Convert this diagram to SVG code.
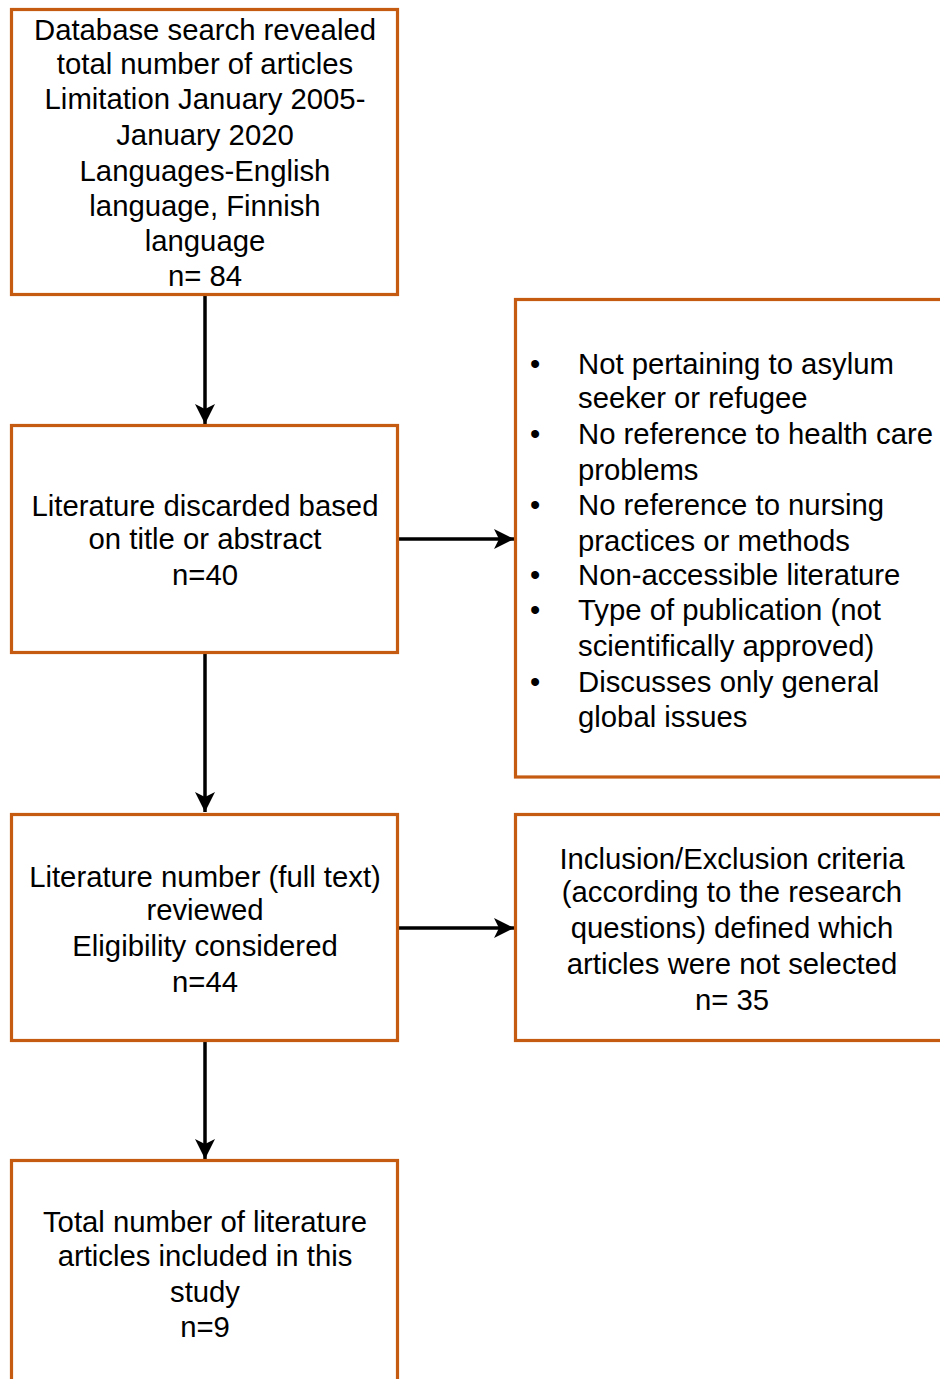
<svg xmlns="http://www.w3.org/2000/svg" width="940" height="1379" viewBox="0 0 940 1379">
<defs>
<marker id="ah" markerUnits="userSpaceOnUse" markerWidth="22" markerHeight="22" viewBox="0 0 22 22" refX="20" refY="11" orient="auto">
<path d="M0,1 L20,11 L0,21 L5,11 Z" fill="#000"/>
</marker>
</defs>
<style>
.box{fill:#fff;stroke:#C55A11;stroke-width:3.2}
.t{font-family:"Liberation Sans",Arial,sans-serif;font-size:29.3px;fill:#000}
.c{text-anchor:middle}
.con{stroke:#000;stroke-width:3.5;fill:none}
</style>
<rect width="940" height="1379" fill="#fff"/>
<g id="connectors">
<line class="con" x1="205" y1="295" x2="205" y2="424" marker-end="url(#ah)"/>
<line class="con" x1="398" y1="539" x2="514" y2="539" marker-end="url(#ah)"/>
<line class="con" x1="205" y1="653" x2="205" y2="812" marker-end="url(#ah)"/>
<line class="con" x1="398" y1="928" x2="514" y2="928" marker-end="url(#ah)"/>
<line class="con" x1="205" y1="1041" x2="205" y2="1159" marker-end="url(#ah)"/>
</g>
<g id="n1">
<rect class="box" x="11.5" y="9.5" width="386" height="285"/>
<text class="t c" x="205" y="40">Database search revealed</text>
<text class="t c" x="205" y="74">total number of articles</text>
<text class="t c" x="205" y="109">Limitation January 2005-</text>
<text class="t c" x="205" y="145">January 2020</text>
<text class="t c" x="205" y="181">Languages-English</text>
<text class="t c" x="205" y="216">language, Finnish</text>
<text class="t c" x="205" y="251">language</text>
<text class="t c" x="205" y="286">n= 84</text>
</g>
<g id="n2">
<rect class="box" x="11.5" y="425.5" width="386" height="227"/>
<text class="t c" x="205" y="516">Literature discarded based</text>
<text class="t c" x="205" y="549">on title or abstract</text>
<text class="t c" x="205" y="585">n=40</text>
</g>
<g id="n3">
<rect class="box" x="11.5" y="814.5" width="386" height="226"/>
<text class="t c" x="205" y="887">Literature number (full text)</text>
<text class="t c" x="205" y="920">reviewed</text>
<text class="t c" x="205" y="956">Eligibility considered</text>
<text class="t c" x="205" y="992">n=44</text>
</g>
<g id="n4">
<rect class="box" x="11.5" y="1160.5" width="386" height="240"/>
<text class="t c" x="205" y="1232">Total number of literature</text>
<text class="t c" x="205" y="1266">articles included in this</text>
<text class="t c" x="205" y="1302">study</text>
<text class="t c" x="205" y="1337">n=9</text>
</g>
<g id="n5">
<rect class="box" x="515.5" y="299.5" width="440" height="477.5"/>
<g class="t">
<text x="530" y="374">•</text><text x="578" y="374">Not pertaining to asylum</text>
<text x="578" y="408">seeker or refugee</text>
<text x="530" y="444">•</text><text x="578" y="444">No reference to health care</text>
<text x="578" y="480">problems</text>
<text x="530" y="515">•</text><text x="578" y="515">No reference to nursing</text>
<text x="578" y="551">practices or methods</text>
<text x="530" y="585">•</text><text x="578" y="585">Non-accessible literature</text>
<text x="530" y="620">•</text><text x="578" y="620">Type of publication (not</text>
<text x="578" y="656">scientifically approved)</text>
<text x="530" y="692">•</text><text x="578" y="692">Discusses only general</text>
<text x="578" y="727">global issues</text>
</g>
</g>
<g id="n6">
<rect class="box" x="515.5" y="814.5" width="440" height="226"/>
<text class="t c" x="732" y="869">Inclusion/Exclusion criteria</text>
<text class="t c" x="732" y="902">(according to the research</text>
<text class="t c" x="732" y="938">questions) defined which</text>
<text class="t c" x="732" y="974">articles were not selected</text>
<text class="t c" x="732" y="1010">n= 35</text>
</g>
</svg>
